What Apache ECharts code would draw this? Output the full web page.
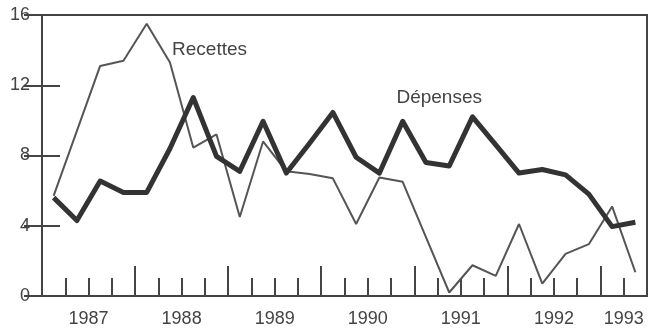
<!DOCTYPE html>
<html>
<head>
<meta charset="utf-8">
<script src="https://cdn.jsdelivr.net/npm/echarts@6/dist/echarts.min.js"></script>
<style>
html,body{margin:0;padding:0;background:#fff;}
#chart{width:652px;height:328px;}
</style>
</head>
<body>
<div id="chart"></div>
<script>
var quarters = [
  '1987T1','1987T2','1987T3','1987T4',
  '1988T1','1988T2','1988T3','1988T4',
  '1989T1','1989T2','1989T3','1989T4',
  '1990T1','1990T2','1990T3','1990T4',
  '1991T1','1991T2','1991T3','1991T4',
  '1992T1','1992T2','1992T3','1992T4',
  '1993T1','1993T2'
];
var years = ['1987','1988','1989','1990','1991','1992','1993'];
var recettes = [5.7, 9.4, 13.1, 13.4, 15.5, 13.3, 8.45, 9.2, 4.5, 8.8, 7.1, 6.95, 6.7, 4.1, 6.75, 6.5, 3.35, 0.2, 1.75, 1.15, 4.1, 0.7, 2.4, 2.95, 5.1, 1.35];
var depenses = [5.6, 4.3, 6.55, 5.9, 5.9, 8.4, 11.3, 7.95, 7.1, 9.95, 7.0, 8.7, 10.45, 7.9, 7.0, 9.95, 7.6, 7.4, 10.2, 8.6, 7.0, 7.2, 6.9, 5.8, 3.95, 4.2];
var yTicks = [0, 4, 8, 12, 16];

var yearPos = {};
years.forEach(function (y) {
  var idx = [];
  quarters.forEach(function (q, i) { if (q.indexOf(y) === 0) idx.push(i); });
  if (idx.length) yearPos[(idx[0] + idx[idx.length - 1] + 1) / 2] = y;
});

var ink = '#444';
var chart = echarts.init(document.getElementById('chart'), null, {renderer: 'canvas'});
chart.setOption({
  backgroundColor: '#fff',
  animation: false,
  grid: {left: 42, right: 5, top: 15, bottom: 31, show: true, borderColor: ink, borderWidth: 2, backgroundColor: 'transparent'},
  xAxis: [
    {type: 'category', data: quarters, boundaryGap: true,
     axisLine: {show: false},
     axisTick: {show: true, interval: 0, inside: true, length: 18, lineStyle: {color: ink, width: 2}},
     axisLabel: {show: false}, splitLine: {show: false}},
    {type: 'value', min: 0, max: quarters.length, interval: 4, position: 'bottom',
     axisLine: {show: false},
     axisTick: {show: true, inside: true, length: 30, lineStyle: {color: ink, width: 2}},
     axisLabel: {show: false}, splitLine: {show: false}},
    {type: 'value', min: 0, max: quarters.length, interval: 1, position: 'bottom',
     axisLine: {show: false}, axisTick: {show: false}, splitLine: {show: false},
     axisLabel: {show: true, margin: 14, fontSize: 18, color: ink, fontFamily: 'Liberation Sans, Arial, sans-serif',
       showMinLabel: true, showMaxLabel: true,
       formatter: function (v) { return yearPos[v] || ''; }}}
  ],
  yAxis: [
    {type: 'value', min: yTicks[0], max: yTicks[yTicks.length - 1], interval: yTicks[1] - yTicks[0], position: 'left',
     axisLine: {show: false}, splitLine: {show: false},
     axisTick: {show: true, inside: true, length: 18, lineStyle: {color: ink, width: 2}},
     axisLabel: {show: true, margin: 12, fontSize: 18, color: ink, fontFamily: 'Liberation Sans, Arial, sans-serif'}},
    {type: 'value', min: yTicks[0], max: yTicks[yTicks.length - 1], interval: yTicks[1] - yTicks[0], position: 'right',
     axisLine: {show: false}, splitLine: {show: false},
     axisTick: {show: true, inside: true, length: 18, lineStyle: {color: ink, width: 2}},
     axisLabel: {show: false}}
  ],
  series: [
    {name: 'Recettes', type: 'line', xAxisIndex: 0, yAxisIndex: 0, data: recettes,
     symbol: 'none', lineStyle: {color: '#555', width: 2}, z: 3,
     markPoint: {symbol: 'circle', symbolSize: 0, silent: true,
       label: {show: true, position: 'inside', formatter: 'Recettes', fontSize: 19, color: ink, offset: [-7, 0],
               fontFamily: 'Liberation Sans, Arial, sans-serif'},
       data: [{coord: [7, 14.0]}]}},
    {name: 'Dépenses', type: 'line', xAxisIndex: 0, yAxisIndex: 0, data: depenses,
     symbol: 'none', lineStyle: {color: '#333', width: 5, join: 'round'}, z: 4,
     markPoint: {symbol: 'circle', symbolSize: 0, silent: true,
       label: {show: true, position: 'inside', formatter: 'Dépenses', fontSize: 19, color: ink, offset: [-10, 0],
               fontFamily: 'Liberation Sans, Arial, sans-serif'},
       data: [{coord: [17, 11.3]}]}}
  ]
});
</script>
</body>
</html>
